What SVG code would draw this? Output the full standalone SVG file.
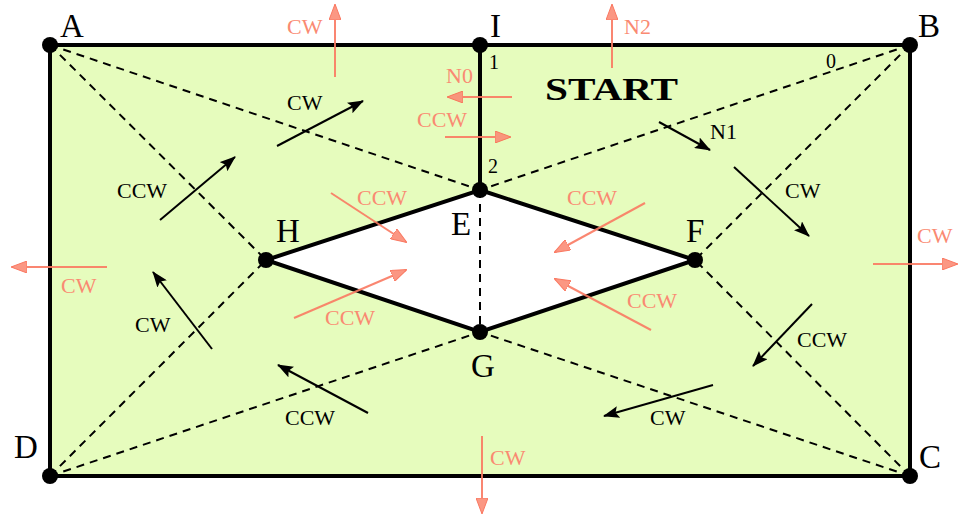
<svg xmlns="http://www.w3.org/2000/svg" width="958" height="515" viewBox="0 0 958 515">
<style>
text{font-family:"Liberation Serif","DejaVu Serif",serif;}
.nl{font-size:33px;fill:#000;}
.num{font-size:20px;fill:#000;}
.bl{font-size:22px;fill:#000;}
.sl{font-size:22px;fill:#fa8a72;}
.solid{stroke:#000;stroke-width:4;fill:none;stroke-linecap:round;}
.dash{stroke:#000;stroke-width:2;fill:none;stroke-dasharray:8,6;}
.barr{stroke:#000;stroke-width:2;fill:none;marker-end:url(#bh);}
.sarr{stroke:#fa7a62;stroke-width:2;fill:none;marker-end:url(#sh);opacity:0.9;}
</style>
<defs>
<marker id="bh" viewBox="0 0 16 12" refX="15" refY="6" markerWidth="16" markerHeight="12" markerUnits="userSpaceOnUse" orient="auto">
<path d="M0,0 L16,6 L0,12 L3,6 Z" fill="#000"/>
</marker>
<marker id="sh" viewBox="0 0 16 12" refX="15" refY="6" markerWidth="16" markerHeight="12" markerUnits="userSpaceOnUse" orient="auto">
<path d="M0,0 L16,6 L0,12 Z" fill="#fb8c76" stroke="#fa6a50" stroke-width="1"/>
</marker>
</defs>
<rect x="50" y="45" width="860" height="431" fill="#e6fcbd"/>
<polygon points="480,190 695,260 480,332 266,260" fill="#fff"/>
<g id="connectors">
<line class="dash" x1="50" y1="45" x2="480" y2="190"/>
<line class="dash" x1="50" y1="45" x2="266" y2="260"/>
<line class="dash" x1="910" y1="45" x2="480" y2="190"/>
<line class="dash" x1="910" y1="45" x2="695" y2="260"/>
<line class="dash" x1="910" y1="476" x2="695" y2="260"/>
<line class="dash" x1="910" y1="476" x2="480" y2="332"/>
<line class="dash" x1="50" y1="476" x2="266" y2="260"/>
<line class="dash" x1="50" y1="476" x2="480" y2="332"/>
<line class="dash" x1="480" y1="190" x2="480" y2="332"/>
<rect class="solid" x="50" y="45" width="860" height="431"/>
<line class="solid" x1="480" y1="45" x2="480" y2="190"/>
<polygon class="solid" points="480,190 695,260 480,332 266,260"/>
</g>
<g id="A"><circle cx="50" cy="45" r="8"/><text class="nl" x="60" y="37">A</text></g>
<g id="B"><circle cx="910" cy="45" r="8"/><text class="nl" x="918" y="37">B</text></g>
<g id="C"><circle cx="910" cy="476" r="8"/><text class="nl" x="919" y="468">C</text></g>
<g id="D"><circle cx="50" cy="476" r="8"/><text class="nl" x="14" y="458">D</text></g>
<g id="I"><circle cx="480" cy="45" r="8"/><text class="nl" x="490" y="37">I</text></g>
<g id="E"><circle cx="480" cy="190" r="8"/><text class="nl" x="451" y="235">E</text></g>
<g id="F"><circle cx="695" cy="260" r="8"/><text class="nl" x="686" y="242">F</text></g>
<g id="G"><circle cx="480" cy="332" r="8"/><text class="nl" x="471" y="377">G</text></g>
<g id="H"><circle cx="266" cy="260" r="8"/><text class="nl" x="276" y="242">H</text></g>
<g id="labels">
<text class="num" x="489" y="69">1</text>
<text class="num" x="488" y="173">2</text>
<text class="num" x="826" y="68">0</text>
<text x="545" y="100" font-size="32" font-weight="bold" textLength="133" lengthAdjust="spacingAndGlyphs">START</text>
<text class="bl" x="287" y="110">CW</text>
<text class="bl" x="117" y="198">CCW</text>
<text class="bl" x="135" y="332">CW</text>
<text class="bl" x="285" y="425">CCW</text>
<text class="bl" x="650" y="425">CW</text>
<text class="bl" x="797" y="347">CCW</text>
<text class="bl" x="785" y="198">CW</text>
<text class="bl" x="710" y="139">N1</text>
<text class="sl" x="287" y="34">CW</text>
<text class="sl" x="624" y="34">N2</text>
<text class="sl" x="446" y="83">N0</text>
<text class="sl" x="417" y="127">CCW</text>
<text class="sl" x="61" y="293">CW</text>
<text class="sl" x="917" y="243">CW</text>
<text class="sl" x="490" y="465">CW</text>
<text class="sl" x="357" y="205">CCW</text>
<text class="sl" x="567" y="205">CCW</text>
<text class="sl" x="325" y="325">CCW</text>
<text class="sl" x="627" y="308">CCW</text>
</g>
<g id="arrows">
<line class="barr" x1="277" y1="146" x2="363" y2="101"/>
<line class="barr" x1="160" y1="220" x2="235" y2="157"/>
<line class="barr" x1="212" y1="349" x2="153" y2="272"/>
<line class="barr" x1="368" y1="413" x2="278" y2="365"/>
<line class="barr" x1="713" y1="385" x2="604" y2="416"/>
<line class="barr" x1="812" y1="304" x2="753" y2="366"/>
<line class="barr" x1="734" y1="167" x2="809" y2="236"/>
<line class="barr" x1="659" y1="122" x2="710" y2="150"/>
<line class="sarr" x1="335" y1="77" x2="335" y2="5"/>
<line class="sarr" x1="612" y1="68" x2="612" y2="5"/>
<line class="sarr" x1="512" y1="97" x2="448" y2="97"/>
<line class="sarr" x1="445" y1="137" x2="510" y2="137"/>
<line class="sarr" x1="107" y1="267" x2="12" y2="267"/>
<line class="sarr" x1="873" y1="264" x2="957" y2="264"/>
<line class="sarr" x1="482" y1="436" x2="482" y2="513"/>
<line class="sarr" x1="331" y1="193" x2="406" y2="242"/>
<line class="sarr" x1="294" y1="318" x2="406" y2="270"/>
<line class="sarr" x1="645" y1="203" x2="555" y2="252"/>
<line class="sarr" x1="651" y1="330" x2="555" y2="279"/>
</g>
</svg>
